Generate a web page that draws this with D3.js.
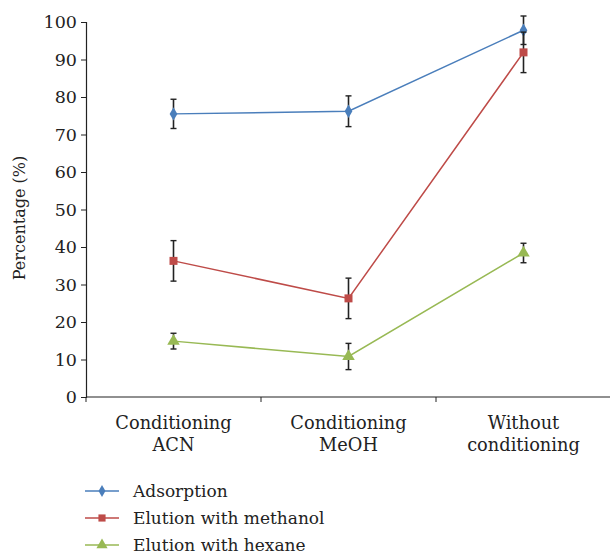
<!DOCTYPE html>
<html>
<head>
<meta charset="utf-8">
<script src="https://cdn.jsdelivr.net/npm/d3@7"></script>
<style>
  body { margin: 0; background: #fff; }
  svg text { font-family: 'DejaVu Serif', serif !important; fill: #222; }
</style>
</head>
<body>
<div id="chart"></div>
<script>
// chart data
const categories = [["Conditioning", "ACN"], ["Conditioning", "MeOH"], ["Without", "conditioning"]];
const seriesNames = ["Adsorption", "Elution with methanol", "Elution with hexane"];
const adsorption = [75.5, 76.2, 97.8];
const adsorptionErr = [3.9, 4.1, 3.8];
const methanol = [36.3, 26.3, 91.9];
const methanolErr = [5.4, 5.4, 5.4];
const hexane = [14.9, 10.8, 38.4];
const hexaneErr = [2.1, 3.5, 2.6];
const yTicks = [0, 10, 20, 30, 40, 50, 60, 70, 80, 90, 100];

const colors = ["#4a7ebb", "#be4b48", "#98b954"];
const symbols = [d3.symbolDiamond, d3.symbolSquare, d3.symbolTriangle];
const symbolSizes = [52, 64, 68];

const series = [
  { name: seriesNames[0], values: adsorption, err: adsorptionErr },
  { name: seriesNames[1], values: methanol, err: methanolErr },
  { name: seriesNames[2], values: hexane, err: hexaneErr }
];

const width = 610, height = 554;
const svg = d3.select('#chart').append('svg')
  .attr('width', width).attr('height', height);

const x = d3.scaleBand().domain(d3.range(categories.length)).range([86, 611]);
const y = d3.scaleLinear().domain([0, 100]).range([397, 22]);

// y axis
const yAxis = svg.append('g').attr('transform', 'translate(86,0)')
  .call(d3.axisLeft(y).tickValues(yTicks).tickSize(5).tickPadding(4));
yAxis.attr('font-family', null).attr('font-size', null);
yAxis.select('.domain').attr('stroke', '#222').attr('stroke-width', 1.2);
yAxis.selectAll('.tick line').attr('stroke', '#222');
yAxis.selectAll('.tick text').attr('font-size', 17.5).attr('fill', '#222');

// x axis
const xAxis = svg.append('g').attr('transform', 'translate(0,397)');
xAxis.append('line').attr('x1', 86).attr('x2', 611).attr('stroke', '#222').attr('stroke-width', 1.2);
xAxis.selectAll('line.tk')
  .data(d3.range(categories.length + 1))
  .enter().append('line').attr('class', 'tk')
  .attr('x1', i => i < categories.length ? x(i) : x.range()[1])
  .attr('x2', i => i < categories.length ? x(i) : x.range()[1])
  .attr('y1', 0).attr('y2', 5).attr('stroke', '#222');
xAxis.selectAll('text.cat')
  .data(categories)
  .enter().append('text').attr('class', 'cat')
  .attr('x', (d, i) => x(i) + x.bandwidth() / 2)
  .attr('text-anchor', 'middle')
  .attr('font-size', 17.8)
  .each(function(d) {
    d3.select(this).selectAll('tspan').data(d).enter().append('tspan')
      .attr('x', d3.select(this).attr('x'))
      .attr('y', (t, j) => 32 + j * 22)
      .text(t => t);
  });

// y title
svg.append('text')
  .attr('transform', 'translate(25,218) rotate(-90)')
  .attr('text-anchor', 'middle')
  .attr('font-size', 16)
  .text('Percentage (%)');

const cx = i => x(i) + x.bandwidth() / 2;
const line = d3.line().x((d, i) => cx(i)).y(d => y(d));

series.forEach((s, k) => {
  const g = svg.append('g');
  g.append('path').datum(s.values)
    .attr('d', line).attr('fill', 'none')
    .attr('stroke', colors[k]).attr('stroke-width', 1.5);

  // error bars
  s.values.forEach((v, i) => {
    const e = s.err[i];
    g.append('line').attr('x1', cx(i)).attr('x2', cx(i))
      .attr('y1', y(v - e)).attr('y2', y(v + e))
      .attr('stroke', '#222').attr('stroke-width', 1.6);
    [v - e, v + e].forEach(t => {
      g.append('line').attr('x1', cx(i) - 3).attr('x2', cx(i) + 3)
        .attr('y1', y(t)).attr('y2', y(t))
        .attr('stroke', '#222').attr('stroke-width', 1.4);
    });
  });

  g.selectAll('path.mk').data(s.values).enter().append('path').attr('class', 'mk')
    .attr('d', d3.symbol().type(symbols[k]).size(symbolSizes[k]))
    .attr('transform', (d, i) => `translate(${cx(i)},${y(d)})`)
    .attr('fill', colors[k]);
});

// legend
const legend = svg.append('g');
series.forEach((s, k) => {
  const ly = 491 + k * 27;
  legend.append('line').attr('x1', 85).attr('x2', 119).attr('y1', ly).attr('y2', ly)
    .attr('stroke', colors[k]).attr('stroke-width', 1.5);
  legend.append('path')
    .attr('d', d3.symbol().type(symbols[k]).size(symbolSizes[k] * 0.8))
    .attr('transform', `translate(102,${ly})`)
    .attr('fill', colors[k]);
  legend.append('text').attr('x', 133).attr('y', ly + 6)
    .attr('font-size', 17).text(s.name);
});
</script>
</body>
</html>
